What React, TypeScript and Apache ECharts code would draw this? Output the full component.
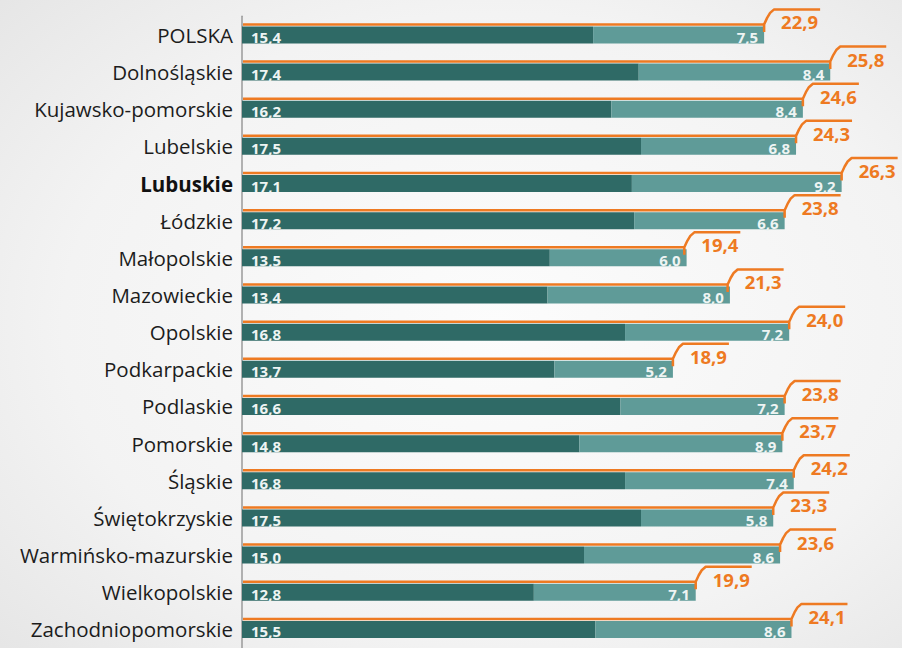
import React, { useEffect, useRef } from "react";
import * as echarts from "echarts";

const categories = [
  "POLSKA",
  "Dolnośląskie",
  "Kujawsko-pomorskie",
  "Lubelskie",
  "Lubuskie",
  "Łódzkie",
  "Małopolskie",
  "Mazowieckie",
  "Opolskie",
  "Podkarpackie",
  "Podlaskie",
  "Pomorskie",
  "Śląskie",
  "Świętokrzyskie",
  "Warmińsko-mazurskie",
  "Wielkopolskie",
  "Zachodniopomorskie",
];
const darkValues = [15.4, 17.4, 16.2, 17.5, 17.1, 17.2, 13.5, 13.4, 16.8, 13.7, 16.6, 14.8, 16.8, 17.5, 15.0, 12.8, 15.5];
const lightValues = [7.5, 8.4, 8.4, 6.8, 9.2, 6.6, 6.0, 8.0, 7.2, 5.2, 7.2, 8.9, 7.4, 5.8, 8.6, 7.1, 8.6];
const totals = [22.9, 25.8, 24.6, 24.3, 26.3, 23.8, 19.4, 21.3, 24.0, 18.9, 23.8, 23.7, 24.2, 23.3, 23.6, 19.9, 24.1];
const boldCategory = "Lubuskie";

const DARK = "#2f6a66";
const LIGHT = "#5f9b98";
const ORANGE = "#ee7a22";
const FONT = "'Open Sans', sans-serif";

const fmt = (v: number) => v.toFixed(1).replace(".", ",");

export default function App() {
  const ref = useRef<HTMLDivElement>(null);
  useEffect(() => {
    if (!ref.current) return;
    const chart = echarts.init(ref.current, undefined, { renderer: "svg" });
    const option: any = {
      animation: false,
      backgroundColor: new echarts.graphic.RadialGradient(0.55, 0.5, 0.8, [
        { offset: 0, color: "#fcfcfc" },
        { offset: 0.6, color: "#f3f3f3" },
        { offset: 1, color: "#e3e3e3" },
      ]),
      grid: { left: 242, top: 16.3, width: 638.4, height: 636.5 },
      xAxis: { type: "value", min: 0, max: 28, show: false },
      yAxis: {
        type: "category",
        inverse: true,
        data: categories,
        axisTick: { show: false },
        axisLine: { show: true, lineStyle: { color: "#9a9a9a", width: 1.5 } },
        axisLabel: {
          margin: 9,
          color: "#1c1c1c",
          fontSize: 20.5,
          fontFamily: FONT,
          formatter: (v: string) => (v === boldCategory ? `{b|${v}}` : v),
          rich: { b: { fontWeight: "bold", fontSize: 20.5, fontFamily: FONT, color: "#111" } },
        },
      },
      series: [
        {
          type: "bar",
          stack: "s",
          barWidth: 17,
          data: darkValues,
          itemStyle: { color: DARK },
          label: {
            show: true,
            position: "insideLeft",
            distance: 9,
            offset: [0, 2],
            color: "#eef4f3",
            fontSize: 15,
            fontWeight: "bold",
            fontFamily: FONT,
            formatter: (p: any) => fmt(p.value),
          },
        },
        {
          type: "bar",
          stack: "s",
          barWidth: 17,
          data: lightValues,
          itemStyle: { color: LIGHT },
          label: {
            show: true,
            position: "insideRight",
            distance: 6,
            offset: [0, 2],
            color: "#eef4f3",
            fontSize: 15,
            fontWeight: "bold",
            fontFamily: FONT,
            formatter: (p: any) => fmt(p.value),
          },
        },
        {
          type: "custom",
          clip: false,
          z: 5,
          data: totals.map((t, i) => [t, i]),
          encode: { x: 0, y: 1 },
          renderItem: (params: any, api: any) => {
            const total = api.value(0);
            const idx = api.value(1);
            const start = api.coord([0, idx]);
            const end = api.coord([total, idx]);
            const c = end[1];
            const ex = end[0];
            const ly = c - 10.5;
            return {
              type: "group",
              children: [
                {
                  type: "polyline",
                  shape: { points: [[start[0] + 1, ly], [ex, ly]] },
                  style: { stroke: ORANGE, lineWidth: 2.5, fill: null },
                },
                {
                  type: "polyline",
                  shape: {
                    points: [
                      [ex, c - 3],
                      [ex, ly],
                      [ex + 3, c - 17],
                      [ex + 6, c - 22],
                      [ex + 10, c - 25.5],
                      [ex + 56, c - 25.5],
                    ],
                  },
                  style: { stroke: ORANGE, lineWidth: 2.5, fill: null, lineJoin: "round" },
                },
                {
                  type: "text",
                  x: ex + 17,
                  y: c - 13,
                  style: {
                    text: fmt(total),
                    fill: ORANGE,
                    font: `bold 18.5px ${FONT}`,
                    textAlign: "left",
                    textVerticalAlign: "middle",
                  },
                },
              ],
            };
          },
        },
      ],
    };
    chart.setOption(option);
    return () => chart.dispose();
  }, []);
  return (
    <div
      ref={ref}
      style={{ position: "absolute", left: 0, top: 0, width: 902, height: 648 }}
    />
  );
}
